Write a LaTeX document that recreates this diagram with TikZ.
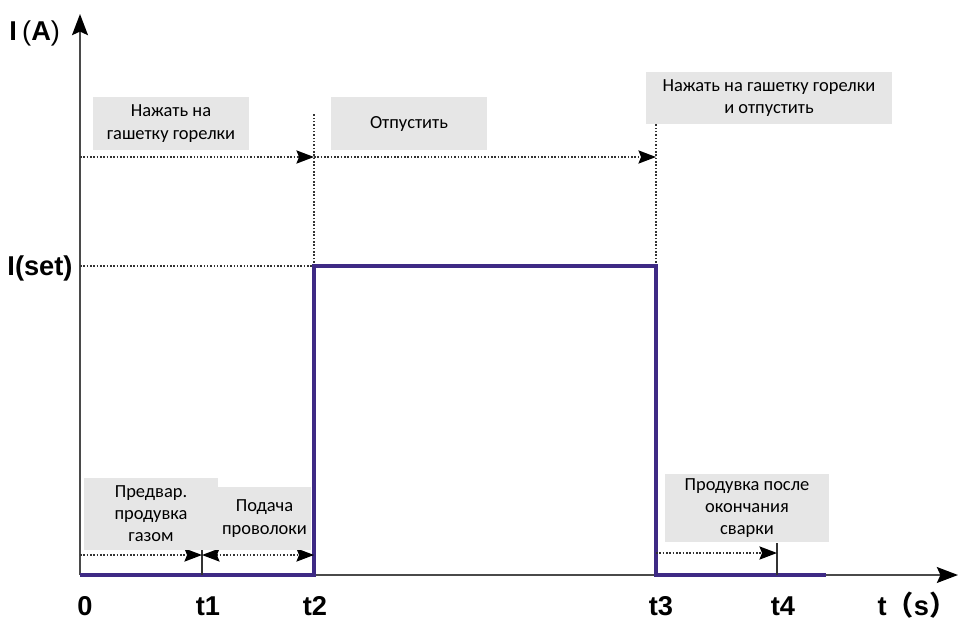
\documentclass[tikz,border=0pt]{standalone}
\usepackage{fontspec}
\setmainfont{Carlito}
\newfontfamily\axisfont{Liberation Sans}
\newfontfamily\cjk{Noto Sans CJK SC}
\definecolor{weldpurple}{HTML}{3E2A85}
\definecolor{axisgray}{HTML}{4A4A4A}
\definecolor{boxgray}{HTML}{E6E6E6}
\usetikzlibrary{arrows.meta,positioning,calc}

\begin{document}
\begin{tikzpicture}[x=0.02cm,y=-0.02cm,
  axis/.style={line width=1.3pt,axisgray,-{Stealth[length=12pt,width=9pt,inset=2pt,color=black]}},
  guide/.style={line width=0.9pt,densely dotted,black!80},
  tip/.tip={Stealth[length=10pt,width=7.5pt,inset=1.5pt,color=black]},
  timearrow/.style={guide,-tip},
  tick/.style={line width=0.7pt,black!80},
  note/.style={fill=boxgray,align=center,font=\fontsize{10.5}{12.6}\selectfont,inner sep=0pt},
  tlabel/.style={font=\axisfont\bfseries\fontsize{15.5}{17}\selectfont}]
\useasboundingbox (0,0) rectangle (960,622);
% axes
\coordinate (O) at (80,575);
\coordinate (Ytop) at (80,14);
\coordinate (Xend) at (958,575);
\coordinate (T1) at (202,575);
\coordinate (T2) at (314,575);
\coordinate (T3) at (656,575);
\coordinate (T4) at (777,575);
\coordinate (Tend) at (826,575);
\coordinate (Set) at (80,266);
\coordinate (S2) at (314,266);
\coordinate (S3) at (656,266);
\draw[axis] (O) -- (Xend);
\draw[axis] (O) -- (Ytop);
% guides
\draw[guide] (Set) -- (S2);
\draw[guide] (S2) -- (314,113);
\draw[guide] (S3) -- (656,124);
\coordinate (P0) at (80,157);
\coordinate (P2) at (314,157);
\coordinate (P3) at (656,157);
\draw[timearrow] (P0) -- (P2);
\draw[timearrow] (P2) -- (P3);
% current
\draw[weldpurple,line width=2.6pt] (O) -- (T2) -- (S2) -- (S3) -- (T3) -- (Tend);
% ticks
\draw[tick] (T1) -- (202,546);
\draw[tick] (T4) -- (777,543);
\coordinate (Q0) at (80,555);
\coordinate (Q1) at (202,555);
\coordinate (Q2) at (314,555);
\draw[timearrow] (Q0) -- (Q1);
\draw[guide,tip-tip] (Q1) -- (Q2);
\coordinate (R3) at (656,553);
\coordinate (R4) at (777,553);
\draw[timearrow] (R3) -- (R4);
% notes
\node[note,minimum width=156*0.02cm,minimum height=53*0.02cm] (press) at (171,123.5) {Нажать на\\гашетку горелки};
\node[note,minimum width=156*0.02cm,minimum height=53*0.02cm] (release) at (409,123.5) {Отпустить};
\node[note,minimum width=246*0.02cm,minimum height=52*0.02cm] (pressrel) at (769,98) {Нажать на гашетку горелки\\и отпустить};
\node[note,minimum width=134*0.02cm,minimum height=72*0.02cm] (pregas) at (151,514) {Предвар.\\продувка\\газом};
\node[note,minimum width=93*0.02cm,minimum height=63*0.02cm] (wire) at (264.5,518.5) {Подача\\проволоки};
\node[note,minimum width=164*0.02cm,minimum height=68*0.02cm] (postgas) at (747,508) {Продувка после\\окончания\\сварки};
% labels
\node[tlabel,anchor=west,inner sep=0pt] (lblA) at (9,33) {I\kern3pt{\mdseries(}A{\mdseries)}};
\node[tlabel] (lblSet) at (40,268) {I(set)};
\node[tlabel] (lbl0) at (85,606) {0};
\node[tlabel] (lbl1) at (208,606) {t1};
\node[tlabel] (lbl2) at (315,606) {t2};
\node[tlabel] (lbl3) at (661,606) {t3};
\node[tlabel] (lbl4) at (783,606) {t4};
\node[tlabel] (lblT) at (917,605) {t{\cjk（}s{\cjk）}};
\end{tikzpicture}
\end{document}
